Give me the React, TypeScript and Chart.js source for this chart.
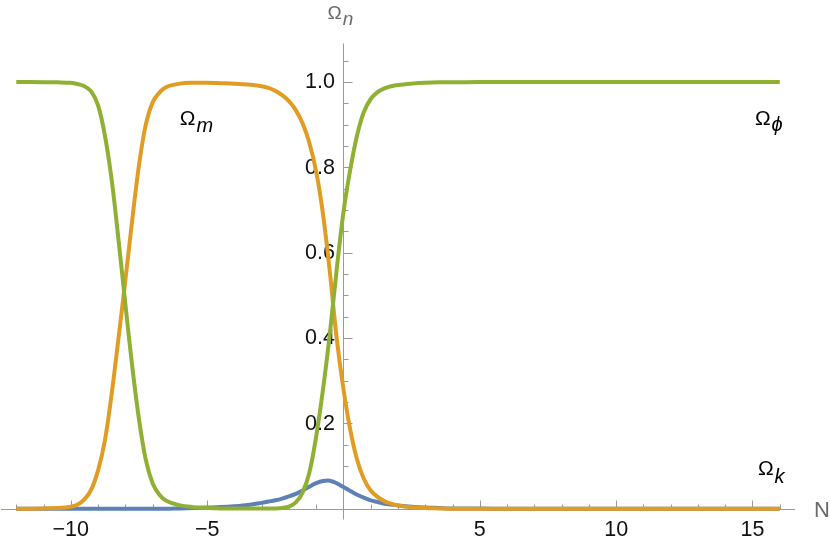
import { useEffect, useRef } from 'react';
import { Chart, registerables } from 'chart.js';

Chart.register(...registerables);

// e-folds N
const nValues = [
  -12, -11, -10.5, -10, -9.75, -9.5, -9.25, -9, -8.75, -8.5, -8.25, -8, -7.75, -7.5, -7.25, -7,
  -6.75, -6.5, -6, -5.5, -5, -4.5, -4, -3.5, -3, -2.75, -2.5, -2.25, -2, -1.75, -1.5, -1.25, -1,
  -0.75, -0.5, -0.25, 0, 0.25, 0.5, 0.75, 1, 1.25, 1.5, 1.75, 2, 2.5, 3, 3.5, 4, 5, 6, 8, 10, 12, 14, 16,
];

// Ω_φ (green)
const omegaPhi = [
  1, 0.9995, 0.999, 0.998, 0.995, 0.99, 0.978, 0.945, 0.875, 0.77, 0.63, 0.48, 0.335, 0.21, 0.115, 0.06,
  0.033, 0.019, 0.008, 0.004, 0.002, 0.001, 0.001, 0.001, 0.001, 0.001, 0.001, 0.002, 0.005, 0.015, 0.038, 0.085, 0.17,
  0.28, 0.41, 0.56, 0.695, 0.795, 0.875, 0.93, 0.96, 0.976, 0.985, 0.99, 0.993, 0.996, 0.998, 0.999, 0.999, 1, 1, 1, 1, 1, 1, 1,
];

// Ω_m (orange)
const omegaM = [
  0, 0.001, 0.002, 0.005, 0.01, 0.022, 0.045, 0.09, 0.16, 0.27, 0.4, 0.535, 0.675, 0.805, 0.9, 0.952,
  0.975, 0.988, 0.996, 0.998, 0.998, 0.997, 0.996, 0.994, 0.99, 0.986, 0.979, 0.969, 0.955, 0.934, 0.903, 0.857, 0.79,
  0.69, 0.555, 0.4, 0.28, 0.185, 0.115, 0.07, 0.043, 0.028, 0.018, 0.012, 0.008, 0.004, 0.002, 0.001, 0, 0, 0, 0, 0, 0, 0, 0,
];

// Ω_k (blue)
const omegaK = [
  0, 0, 0, 0, 0, 0, 0, 0, 0, 0, 0, 0, 0, 0, 0, 0,
  0, 0, 0.001, 0.002, 0.003, 0.004, 0.006, 0.009, 0.014, 0.017, 0.02, 0.024, 0.029, 0.035, 0.043, 0.052, 0.06,
  0.065, 0.066, 0.06, 0.051, 0.042, 0.033, 0.026, 0.02, 0.016, 0.012, 0.01, 0.008, 0.005, 0.003, 0.002, 0.001, 0.0005, 0, 0, 0, 0, 0, 0,
];

const xTickLabels = [-10, -5, 5, 10, 15];
const yTickLabels = [0.2, 0.4, 0.6, 0.8, 1.0];

const X_MIN = -12.56;
const X_MAX = 16.56;
const Y_MIN = -0.025;
const Y_MAX = 1.09;
const X_MINOR_STEP = 1;
const X_MAJOR_EVERY = 5;
const Y_MINOR_STEP = 0.05;
const Y_MAJOR_EVERY = 4;

const BLUE = '#5E81B5';
const ORANGE = '#E19C24';
const GREEN = '#8FB032';
const AXIS = '#9a9a9a';
const FONT = '"Liberation Sans", Arial, sans-serif';
const TICK_FONT = `21.5px ${FONT}`;

const annotations = [
  { sub: 'm', n: -6.0, v: 0.899, shift: 7 },
  { sub: 'ϕ', n: 15.09, v: 0.899, shift: 6 },
  { sub: 'k', n: 15.2, v: 0.08, shift: 8 },
];

const axesPlugin = {
  id: 'mmaAxes',
  beforeDatasetsDraw(chart: any) {
    const { ctx, chartArea: ca } = chart;
    const xs = chart.scales.x;
    const ys = chart.scales.y;
    const x0 = Math.round(xs.getPixelForValue(0)) + 0.5;
    const y0 = Math.round(ys.getPixelForValue(0)) + 0.5;
    ctx.save();
    ctx.strokeStyle = AXIS;
    ctx.lineWidth = 1;
    ctx.beginPath();
    ctx.moveTo(ca.left, y0);
    ctx.lineTo(ca.right, y0);
    ctx.moveTo(x0, ca.top);
    ctx.lineTo(x0, ca.bottom);
    for (let n = Math.ceil(X_MIN); n <= Math.floor(X_MAX); n += X_MINOR_STEP) {
      if (n === 0) continue;
      const px = Math.round(xs.getPixelForValue(n)) + 0.5;
      const len = n % X_MAJOR_EVERY === 0 ? 9 : 5;
      ctx.moveTo(px, y0);
      ctx.lineTo(px, y0 - len);
    }
    for (let k = 1; k * Y_MINOR_STEP <= Y_MAX; k++) {
      const py = Math.round(ys.getPixelForValue(k * Y_MINOR_STEP)) + 0.5;
      const len = k % Y_MAJOR_EVERY === 0 ? 9 : 5;
      ctx.moveTo(x0, py);
      ctx.lineTo(x0 + len, py);
    }
    ctx.stroke();

    // y tick labels
    ctx.fillStyle = '#111';
    ctx.font = TICK_FONT;
    ctx.textAlign = 'right';
    ctx.textBaseline = 'middle';
    for (const v of yTickLabels) {
      ctx.fillText(v.toFixed(1), x0 - 8.5, ys.getPixelForValue(v) + 0.5);
    }
    ctx.restore();
  },
  afterDatasetsDraw(chart: any) {
    const { ctx, chartArea: ca } = chart;
    const xs = chart.scales.x;
    const ys = chart.scales.y;
    const x0 = xs.getPixelForValue(0);
    const y0 = ys.getPixelForValue(0);
    ctx.save();
    ctx.textAlign = 'left';
    ctx.textBaseline = 'alphabetic';
    ctx.fillStyle = '#000';
    for (const a of annotations) {
      const px = xs.getPixelForValue(a.n);
      const py = ys.getPixelForValue(a.v);
      ctx.font = `21px ${FONT}`;
      ctx.fillText('Ω', px, py);
      const w = ctx.measureText('Ω').width;
      ctx.font = `italic 20px ${FONT}`;
      ctx.fillText(a.sub, px + w + 1, py + a.shift);
    }
    ctx.fillStyle = '#6a6a6a';
    ctx.font = `19px ${FONT}`;
    ctx.fillText('Ω', x0 - 16, ca.top - 24.5);
    const wt = ctx.measureText('Ω').width;
    ctx.font = `italic 19px ${FONT}`;
    ctx.fillText('n', x0 - 16 + wt + 1, ca.top - 18.5);
    ctx.font = `22px ${FONT}`;
    ctx.fillText('N', ca.right + 19, y0 + 8);
    ctx.restore();
  },
};

export default function App() {
  const canvasRef = useRef<HTMLCanvasElement | null>(null);

  useEffect(() => {
    const canvas = canvasRef.current;
    if (!canvas) return;
    const mk = (vals: number[]) => nValues.map((n, i) => ({ x: n, y: vals[i] }));
    const common = {
      borderWidth: 4,
      pointRadius: 0,
      fill: false,
      tension: 0.35,
      borderJoinStyle: 'round' as const,
    };
    const chart = new Chart(canvas, {
      type: 'line',
      data: {
        datasets: [
          { label: 'Ωφ', data: mk(omegaPhi), borderColor: GREEN, ...common },
          { label: 'Ωm', data: mk(omegaM), borderColor: ORANGE, ...common },
          { label: 'Ωk', data: mk(omegaK), borderColor: BLUE, ...common },
        ],
      },
      options: {
        animation: false,
        responsive: false,
        devicePixelRatio: 1,
        layout: { padding: { left: 1, right: 35, top: 43.5, bottom: 22.5 } },
        plugins: { legend: { display: false }, tooltip: { enabled: false } },
        scales: {
          x: {
            type: 'linear',
            min: X_MIN,
            max: X_MAX,
            position: { y: 0 } as any,
            grid: { display: false, drawTicks: false },
            border: { display: false },
            afterBuildTicks: (s: any) => {
              s.ticks = xTickLabels.map((v) => ({ value: v }));
            },
            ticks: {
              autoSkip: false,
              maxRotation: 0,
              padding: 8,
              color: '#111',
              font: { family: FONT, size: 21.5 },
              callback: (v: any) => String(v).replace('-', '\u2212'),
            },
          },
          y: {
            type: 'linear',
            min: Y_MIN,
            max: Y_MAX,
            position: { x: 0 } as any,
            grid: { display: false, drawTicks: false },
            border: { display: false },
            ticks: { display: false },
          },
        },
      },
      plugins: [axesPlugin],
    });
    return () => chart.destroy();
  }, []);

  return (
    <div style={{ position: 'absolute', left: 0, top: 0, width: 830, height: 542, background: '#fff' }}>
      <canvas ref={canvasRef} width={830} height={542} style={{ display: 'block' }} />
    </div>
  );
}
